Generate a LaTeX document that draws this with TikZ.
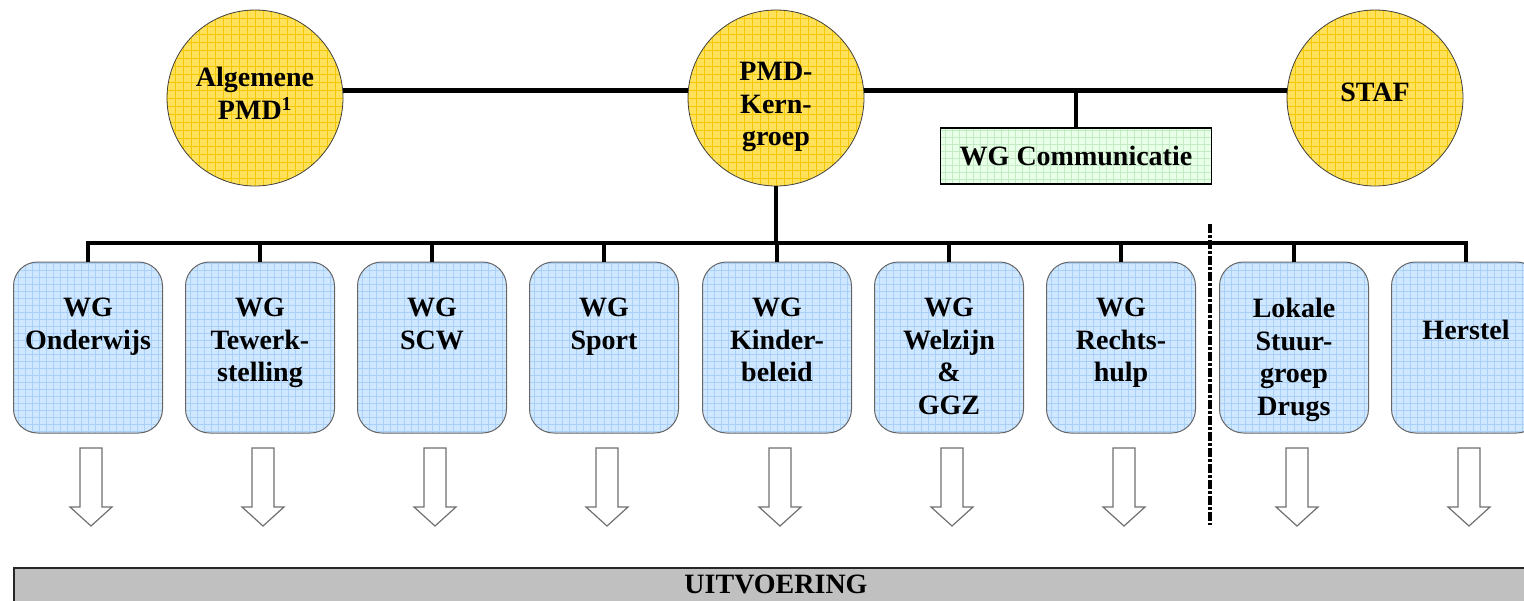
\documentclass[tikz,border=0pt]{standalone}
\usepackage{fontspec}
\setmainfont{Liberation Serif}
\definecolor{circfill}{HTML}{FFE15C}
\definecolor{circgrid}{HTML}{F5C800}
\definecolor{boxfill}{HTML}{CFE7FF}
\definecolor{boxgrid}{HTML}{A8D0F8}
\definecolor{comfill}{HTML}{E8FFE8}
\definecolor{comgrid}{HTML}{C4ECC4}
\definecolor{barfill}{HTML}{C0C0C0}
\definecolor{arrowgray}{HTML}{707070}
\tikzset{
  lbl/.style={font=\fontsize{28}{32.5}\selectfont\bfseries, align=center, inner sep=0pt},
  toplbl/.style={lbl, anchor=north},
  circ/.style={circle, draw=black!75, line width=0.8pt, minimum size=176pt, inner sep=0pt,
    fill=circfill, path picture={\draw[circgrid, line width=0.9pt]
      (path picture bounding box.south west) grid[step=8pt] (path picture bounding box.north east);}},
  wgbox/.style={rectangle, rounded corners=24pt, draw=black!60, line width=1pt,
    minimum width=149pt, minimum height=171pt, inner sep=0pt,
    fill=boxfill, path picture={\draw[boxgrid, line width=0.7pt]
      (path picture bounding box.south west) grid[step=7pt] (path picture bounding box.north east);}},
  combox/.style={rectangle, draw=black, line width=1.3pt, minimum width=271pt, minimum height=56pt,
    inner sep=0pt, lbl, fill=comfill, path picture={\draw[comgrid, line width=0.6pt]
      (path picture bounding box.south west) grid[step=7pt] (path picture bounding box.north east);}},
  bus/.style={line width=4.8pt, black},
  sepline/.style={line width=3.5pt, black, dash pattern=on 9pt off 2pt on 3pt off 2pt},
  arrowline/.style={draw=arrowgray, line width=1.2pt, fill=white, line join=miter},
  barbox/.style={rectangle, draw=black!85, line width=2pt, fill=barfill, anchor=north west,
    minimum width=1560pt, minimum height=80pt, inner sep=0pt},
  hollowarrow/.pic={\draw[arrowline] (-11,0) -- (-11,59) -- (-21,59) -- (0,78) -- (21,59)
    -- (11,59) -- (11,0) -- cycle;}
}
\begin{document}
\begin{tikzpicture}[x=1pt, y=-1pt]
\useasboundingbox (0,0) rectangle (1524,600);
\clip (0,0) rectangle (1524,600);

% top level: three circles
\node[circ] (alg)  at (255,98) {};
\node[circ] (pmd)  at (776,98) {};
\node[circ] (staf) at (1375,98) {};
\node[toplbl] (algT)  at (255,67)  {Algemene\\PMD\textsuperscript{1}};
\node[toplbl] (pmdT)  at (776,62)  {PMD-\\Kern-\\groep};
\node[toplbl] (stafT) at (1375,83) {STAF};

% communication working group
\node[combox] (com) at (1076,156) {WG Communicatie};
\coordinate (comJ) at (com.north |- 0,90);

\draw[bus] (alg.5) -- (pmd.175);
\draw[bus] (pmd.5) -- (staf.175);
\draw[bus] (comJ) -- (com.north);

% working groups
\foreach \i/\x in {1/88, 2/260, 3/432, 4/604, 5/777, 6/949, 7/1121, 8/1294, 9/1466}{
  \node[wgbox] (b\i) at (\x,347.5) {};
  \pic at (\x+3,448) {hollowarrow};
}
\node[toplbl] (t1) at (b1.north |- 0,298) {WG\\Onderwijs};
\node[toplbl] (t2) at (b2.north |- 0,298) {WG\\Tewerk-\\stelling};
\node[toplbl] (t3) at (b3.north |- 0,298) {WG\\SCW};
\node[toplbl] (t4) at (b4.north |- 0,298) {WG\\Sport};
\node[toplbl] (t5) at (b5.north |- 0,298) {WG\\Kinder-\\beleid};
\node[toplbl] (t6) at (b6.north |- 0,298) {WG\\Welzijn\\\&\\GGZ};
\node[toplbl] (t7) at (b7.north |- 0,298) {WG\\Rechts-\\hulp};
\node[toplbl] (t8) at (b8.north |- 0,298) {Lokale\\Stuur-\\groep\\Drugs};
\node[toplbl] (t9) at (b9.north |- 0,320) {Herstel};

% distribution bus
\coordinate (busy) at (0,243);
\draw[bus] (pmd.south) -- (pmd.south |- busy);
\draw[bus, line join=miter] (b1.north) -- (b1.north |- busy) -- (b9.north |- busy) -- (b9.north);
\foreach \i in {2,...,8}{
  \draw[bus] (b\i.north |- busy) -- (b\i.north);
}

% separator
\coordinate (sepT) at (1210,224);
\coordinate (sepB) at (1210,525);
\draw[sepline] (sepT) -- (sepB);

% execution bar
\node[barbox] (bar) at (13,567) {};
\node[toplbl] (barT) at (776,575) {UITVOERING};
\end{tikzpicture}
\end{document}
